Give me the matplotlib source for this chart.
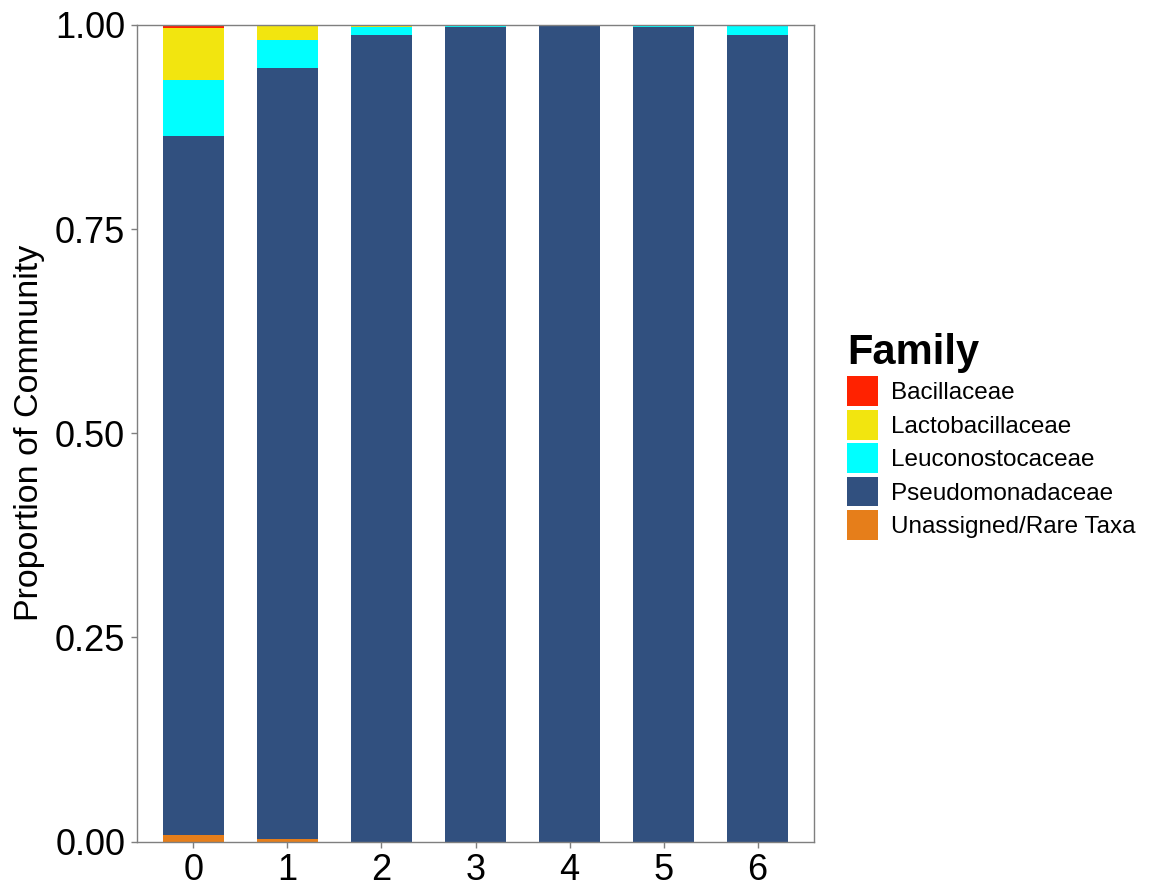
import numpy as np
import matplotlib
matplotlib.use("Agg")
import matplotlib.pyplot as plt
from matplotlib.patches import Patch

plt.rcParams['font.family'] = ['Liberation Sans', 'DejaVu Sans']

# time points (x axis)
days = ['0', '1', '2', '3', '4', '5', '6']

# relative abundance per family at each time point
unassigned = [0.008, 0.003, 0.000, 0.000, 0.000, 0.000, 0.000]
pseudomonadaceae = [0.856, 0.944, 0.988, 0.998, 0.999, 0.998, 0.988]
leuconostocaceae = [0.069, 0.035, 0.010, 0.002, 0.001, 0.002, 0.012]
lactobacillaceae = [0.063, 0.018, 0.002, 0.000, 0.000, 0.000, 0.000]
bacillaceae = [0.004, 0.000, 0.000, 0.000, 0.000, 0.000, 0.000]

families = ['Bacillaceae', 'Lactobacillaceae', 'Leuconostocaceae',
            'Pseudomonadaceae', 'Unassigned/Rare Taxa']
colors = ['#FF2200', '#F2E50F', '#00FFFF', '#31507F', '#E67E1A']

# stacked bottom-to-top in reverse legend order (like ggplot)
stack = [unassigned, pseudomonadaceae, leuconostocaceae, lactobacillaceae, bacillaceae]
stack_colors = colors[::-1]

W, H = 1151, 886
fig = plt.figure(figsize=(W / 100, H / 100), dpi=100)
ax = fig.add_axes([137 / W, 1 - 841.5 / H, (814 - 137) / W, (841.5 - 25) / H])

x = np.arange(len(days))
bottom = np.zeros(len(days))
for vals, c in zip(stack, stack_colors):
    vals = np.array(vals)
    ax.bar(x, vals, width=0.65, bottom=bottom, color=c, linewidth=0)
    bottom += vals

ax.set_xlim(-0.6, 6.6)
ax.set_ylim(0, 1)
ax.set_xticks(x)
ax.set_xticklabels(days)
ax.set_yticks([0, 0.25, 0.5, 0.75, 1.0])
ax.set_yticklabels(['0.00', '0.25', '0.50', '0.75', '1.00'])

for s in ax.spines.values():
    s.set_color('#7f7f7f')
    s.set_linewidth(1.0)
ax.tick_params(axis='both', colors='#7f7f7f', length=4.5, width=1.0,
               labelsize=26, labelcolor='black')
ax.tick_params(axis='x', pad=4)
ax.tick_params(axis='y', pad=4)

ax.set_ylabel('Proportion of Community', fontsize=24.5)
ax.yaxis.set_label_coords((45 - 137) / (814 - 137), 0.5)

handles = [Patch(facecolor=c, edgecolor='none') for c in colors]
leg = fig.legend(handles, families, loc='upper left',
                 bbox_to_anchor=(847 / W, 1 - 333 / H),
                 frameon=False, fontsize=17.5, title='Family',
                 title_fontproperties={'weight': 'bold', 'size': 30},
                 alignment='left', handlelength=1.27, handleheight=1.52,
                 handletextpad=0.53, labelspacing=0.14, borderpad=0,
                 borderaxespad=0)

fig.savefig('out.png', dpi=100)
